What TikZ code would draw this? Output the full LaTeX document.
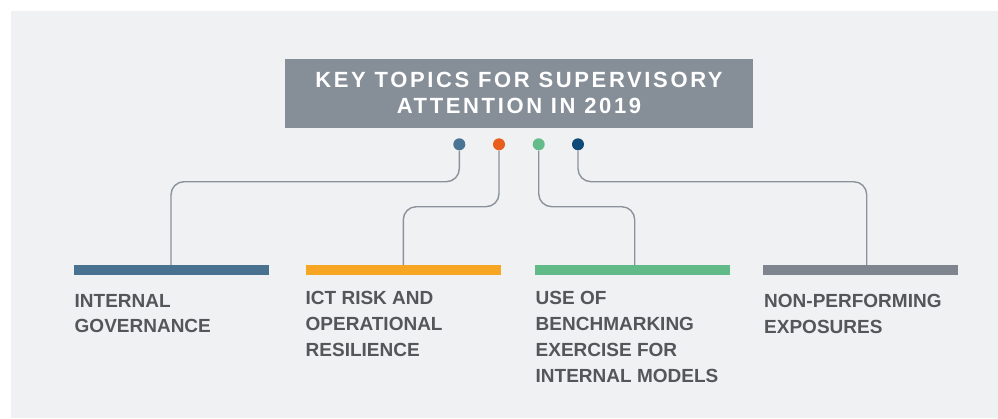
\documentclass[tikz,border=0pt]{standalone}
\usepackage{fontspec}
\setmainfont{Liberation Sans}
\newfontfamily\titlefont[LetterSpace=12]{Liberation Sans}
\definecolor{bgc}{HTML}{F0F1F3}
\definecolor{titlebg}{HTML}{868E98}
\definecolor{linec}{HTML}{8A929B}
\definecolor{txtc}{HTML}{55565A}
\definecolor{barA}{HTML}{48728F}
\definecolor{barB}{HTML}{F6A623}
\definecolor{barC}{HTML}{61BA87}
\definecolor{barD}{HTML}{7E858F}
\definecolor{dotA}{HTML}{4A7494}
\definecolor{dotB}{HTML}{E85E1C}
\definecolor{dotC}{HTML}{63BC8A}
\definecolor{dotD}{HTML}{0E4A78}
\tikzset{
  dotnode/.style={circle, inner sep=0pt, minimum size=12pt},
  barnode/.style={rectangle, inner sep=0pt, minimum width=195pt, minimum height=10pt, anchor=north west},
  conn/.style={draw=linec, line width=1.4pt, rounded corners=13pt},
  lbl/.style={anchor=north west, inner sep=0pt, align=left, text=txtc, font=\fontsize{19}{25.7}\selectfont\bfseries},
}
\begin{document}
\begin{tikzpicture}[x=1pt,y=-1pt]
\useasboundingbox (0,0) rectangle (998,418);
\fill[bgc] (11,11) rectangle (998,418);
\node[fill=titlebg, minimum width=468pt, minimum height=68.5pt, inner sep=0pt, anchor=north west] (title) at (285,59) {};
\node[text=white, align=center, inner sep=0pt, font=\fontsize{22}{25.3}\titlefont\bfseries] (titletext) at (519,93) {KEY TOPICS FOR SUPERVISORY\\ATTENTION IN 2019};
\node[dotnode, fill=dotA] (d1) at (459.3,144.3) {};
\node[dotnode, fill=dotB] (d2) at (499,144.3) {};
\node[dotnode, fill=dotC] (d3) at (538.7,144.3) {};
\node[dotnode, fill=dotD] (d4) at (578,144.3) {};
\node[barnode, fill=barA] (b1) at (74,265) {};
\node[barnode, fill=barB] (b2) at (306,265) {};
\node[barnode, fill=barC] (b3) at (535,265) {};
\node[barnode, fill=barD] (b4) at (763,265) {};
\coordinate (t1) at (171,265);
\coordinate (t2) at (403.3,265);
\coordinate (t3) at (634.7,265);
\coordinate (t4) at (866.7,265);
\draw[conn] (d1.south) |- (171,181.7) -- (t1);
\draw[conn] (d2.south) |- (403.3,206.7) -- (t2);
\draw[conn] (d3.south) |- (634.7,206.7) -- (t3);
\draw[conn] (d4.south) |- (866.7,181.7) -- (t4);
\node[lbl] (l1) at (74.5,294) {INTERNAL\\GOVERNANCE};
\node[lbl] (l2) at (305.5,291.5) {ICT RISK AND\\OPERATIONAL\\RESILIENCE};
\node[lbl] (l3) at (535.5,291.5) {USE OF\\BENCHMARKING\\EXERCISE FOR\\INTERNAL MODELS};
\node[lbl] (l4) at (764,294.5) {NON-PERFORMING\\EXPOSURES};
\end{tikzpicture}
\end{document}
